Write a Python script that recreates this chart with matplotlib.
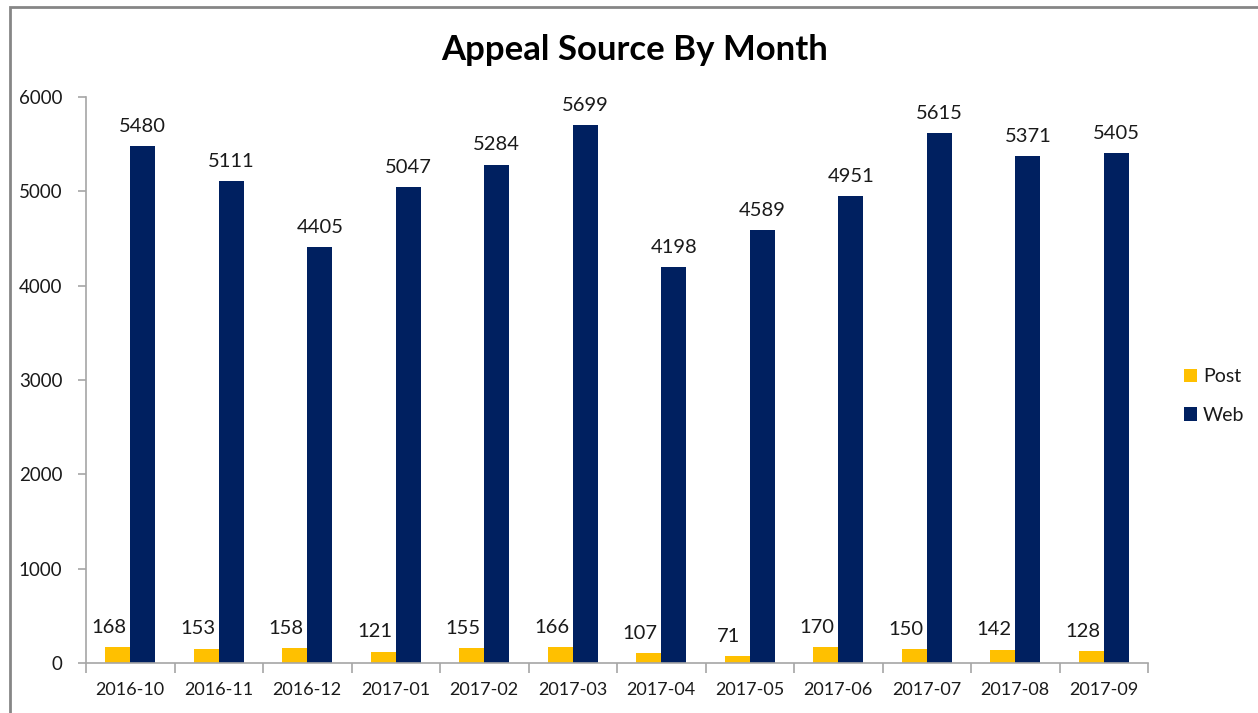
import matplotlib
matplotlib.use("Agg")
import matplotlib.pyplot as plt
import numpy as np
from matplotlib.patches import Rectangle

months = ["2016-10", "2016-11", "2016-12", "2017-01", "2017-02", "2017-03",
          "2017-04", "2017-05", "2017-06", "2017-07", "2017-08", "2017-09"]
post = [168, 153, 158, 121, 155, 166, 107, 71, 170, 150, 142, 128]
web = [5480, 5111, 4405, 5047, 5284, 5699, 4198, 4589, 4951, 5615, 5371, 5405]
yticks = [0, 1000, 2000, 3000, 4000, 5000, 6000]

plt.rcParams['font.family'] = ['Lato', 'DejaVu Sans']
POST_C = "#FFC000"
WEB_C = "#002060"
AX_C = "#A6A6A6"
TXT_C = "#1A1A1A"

fig = plt.figure(figsize=(12.58, 7.13), dpi=100)
fig.patches.append(Rectangle((10/1258, -0.1), 1.2, (713-7)/713 + 0.1, transform=fig.transFigure,
                             fill=False, edgecolor="#868686", linewidth=2))
ax = fig.add_axes([86/1258, 50/713, (1148-86)/1258, (663-97)/713])

x = np.arange(len(months))
w = 0.285
b1 = ax.bar(x - w/2, post, w, color=POST_C, label="Post")
b2 = ax.bar(x + w/2, web, w, color=WEB_C, label="Web")
for bars, vals, dx in ((b1, post, -6), (b2, web, 0)):
    for r, v in zip(bars, vals):
        ax.annotate(str(v), (r.get_x() + r.get_width()/2, r.get_height()),
                    xytext=(dx, 8), textcoords="offset points", ha="center", va="bottom",
                    fontsize=14.5, color=TXT_C)

ax.set_xlim(-0.5, len(months) - 0.5)
ax.set_ylim(0, 6000)
ax.set_yticks(yticks)
ax.set_yticklabels([str(t) for t in yticks])
ax.set_xticks(x)
ax.set_xticklabels(months)
ax.set_xticks(np.arange(-0.5, len(months)), minor=True)
ax.tick_params(axis="x", which="major", length=0, pad=14, labelsize=13, labelcolor=TXT_C)
ax.tick_params(axis="x", which="minor", length=7, color=AX_C, width=1.2)
ax.tick_params(axis="y", length=6, color=AX_C, width=1.2, pad=11, labelsize=13.5, labelcolor=TXT_C)
for s in ("top", "right"):
    ax.spines[s].set_visible(False)
for s in ("left", "bottom"):
    ax.spines[s].set_color(AX_C)
    ax.spines[s].set_linewidth(1.2)

fig.text(635/1258, 1 - 50/713, "Appeal Source By Month", ha="center", va="center",
         fontsize=25, fontweight="bold", color="black")

ax.legend(loc="center left", bbox_to_anchor=(1.017, 0.472), frameon=False, fontsize=14,
          handlelength=0.7, handleheight=0.7, handletextpad=0.3, labelspacing=1.1,
          labelcolor=TXT_C)

fig.savefig("out.png", dpi=100)
